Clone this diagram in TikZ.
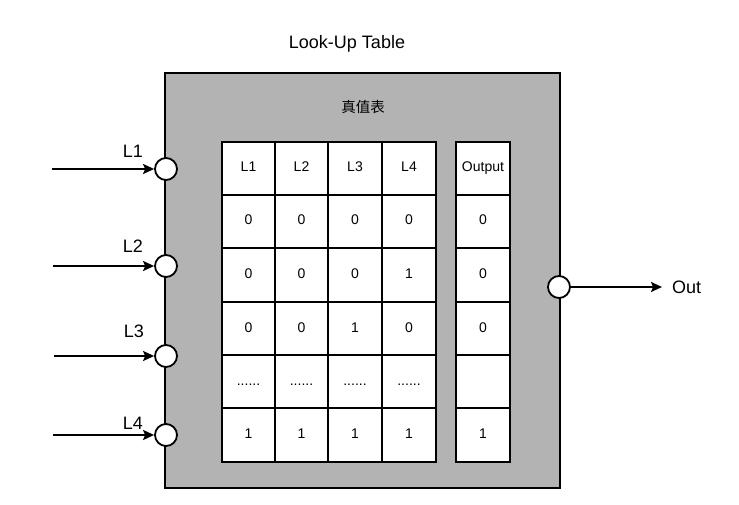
\documentclass[tikz,border=0pt]{standalone}
\usepackage{fontspec}
\setmainfont{Liberation Sans}
\newfontfamily\cjk{Noto Sans CJK SC}
\usepackage{xcolor}
\usepackage{tikz}
\usetikzlibrary{arrows.meta, positioning}
\definecolor{lutgray}{RGB}{179,179,179}
\newcommand{\sixdots}{......}
\tikzset{
    lutbox/.style={draw, fill=lutgray, line width=1.8pt, minimum width=395pt, minimum height=415pt, inner sep=0pt},
    cell/.style={draw, fill=white, line width=1.8pt, minimum width=53.5pt, minimum height=53.3pt, inner sep=0pt,
                 text height=10pt, text depth=3pt, font=\fontsize{14}{16}\selectfont},
    port/.style={circle, draw, fill=white, line width=1.8pt, minimum size=22pt, inner sep=0pt},
    wire/.style={line width=1.8pt, -{Stealth[length=11pt, width=10pt, inset=2pt]}},
    sidelabel/.style={font=\fontsize{18}{20}\selectfont, inner sep=0pt}
}

\begin{document}
\begin{tikzpicture}[x=1pt, y=-1pt]
    \useasboundingbox (0,0) rectangle (739,505);
    % outer block
    \node[lutbox] (lut) at (362.5,280.5) {};
    \node[sidelabel] (title) at (347,44) {Look-Up Table};
    \node[inner sep=0pt, font=\cjk\fontsize{14.5}{16}\selectfont] (tt) at (363,107) {真值表};

    % truth table: inputs
    \foreach \r/\y/\a/\b/\c/\d in {0/168.5/L1/L2/L3/L4, 1/221.5/0/0/0/0, 2/275/0/0/0/1,
                                    3/328.5/0/0/1/0, 4/381.5/\sixdots/\sixdots/\sixdots/\sixdots, 5/435/1/1/1/1} {
        \node[cell] (c\r-1) at (248.5,\y) {\a};
        \node[cell] (c\r-2) at (301.5,\y) {\b};
        \node[cell] (c\r-3) at (355,\y) {\c};
        \node[cell] (c\r-4) at (409,\y) {\d};
    }
    % truth table: output column
    \foreach \r/\y/\o in {0/168.5/Output, 1/221.5/0, 2/275/0, 3/328.5/0, 4/381.5/{}, 5/435/1}
        \node[cell, minimum width=54pt] (o\r) at (483,\y) {\o};

    % input ports
    \node[port] (p1) at (166,169) {};
    \node[port] (p2) at (166,266) {};
    \node[port] (p3) at (166,356) {};
    \node[port] (p4) at (166,435) {};
    \coordinate (i1) at (52,169);
    \coordinate (i2) at (53,266);
    \coordinate (i3) at (54,356);
    \coordinate (i4) at (53,435);
    \draw[wire] (i1) -- (p1);
    \draw[wire] (i2) -- (p2);
    \draw[wire] (i3) -- (p3);
    \draw[wire] (i4) -- (p4);
    \node[sidelabel] (l1) at (133,151) {L1};
    \node[sidelabel] (l2) at (133,246) {L2};
    \node[sidelabel] (l3) at (134,331) {L3};
    \node[sidelabel] (l4) at (133,423) {L4};

    % output port
    \node[port] (po) at (559,287) {};
    \coordinate (oend) at (662,287);
    \draw[wire] (po) -- (oend);
    \node[sidelabel, anchor=west] (out) at (672,287) {Out};
\end{tikzpicture}
\end{document}
